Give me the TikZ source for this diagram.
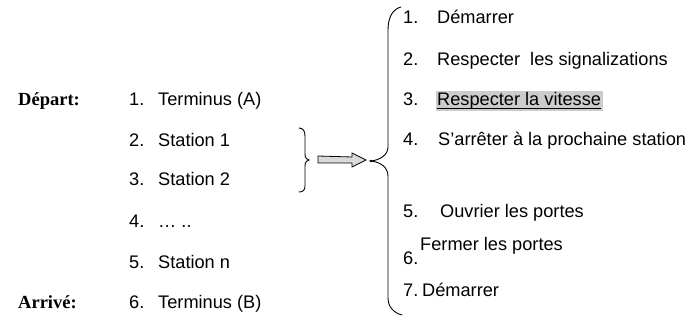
\documentclass[tikz,border=0pt]{standalone}
\usepackage{fontspec}
\setmainfont{Liberation Sans}
\newfontfamily\lblfont{Liberation Serif}
\usetikzlibrary{calc}
\begin{document}
\begin{tikzpicture}[x=1pt,y=-1pt,
  item/.style={anchor=base west,inner sep=0pt,font=\fontsize{18.2}{21}\selectfont},
  lbl/.style={anchor=base west,inner sep=0pt,font=\lblfont\fontsize{18.5}{21}\selectfont\bfseries},
  brace/.style={draw=black,line width=0.9pt,line cap=round},
  hl/.style={fill=gray!40}]
\useasboundingbox (0,0) rectangle (695,320);
% left labels
\node[lbl] (dep) at (18,106) {Départ:};
\node[lbl] (arr) at (18,308) {Arrivé:};
% left list
\node[item] (n1) at (129,106) {1.};
\node[item] (t1) at (158,106) {Terminus (A)};
\node[item] (n2) at (129,147) {2.};
\node[item] (t2) at (158,147) {Station 1};
\node[item] (n3) at (129,186) {3.};
\node[item] (t3) at (158,186) {Station 2};
\node[item] (n4) at (129,228) {4.};
\node[item] (t4) at (158,228) {\ldots\ ..};
\node[item] (n5) at (129,268) {5.};
\node[item] (t5) at (158,268) {Station n};
\node[item] (n6) at (129,308) {6.};
\node[item] (t6) at (158,308) {Terminus (B)};
% small brace
\coordinate (sb) at (309,160);
\draw[brace] (299,128) .. controls (303,128) and (305,131) .. (305,136) -- (305,154)
  .. controls (305,158) and (307,160) .. (sb)
  .. controls (307,160) and (305,162) .. (305,166) -- (305,186)
  .. controls (305,190) and (303,192) .. (299,192);
% big brace
\coordinate (bb) at (371,161);
\draw[brace] (401,7) .. controls (393,9) and (388,17) .. (388,30) -- (388,147)
  .. controls (388,155) and (380,160) .. (bb)
  .. controls (380,162) and (388,167) .. (388,176) -- (388,298)
  .. controls (388,307) and (394,313) .. (402,315);
% arrow
\draw[fill=gray!30,line width=0.8pt,line join=miter]
  ($(sb)+(9,-4)$) -- ($(bb)+(-19,-4)$) -- ($(bb)+(-19,-8)$) -- ($(bb)+(-5,-1)$)
  -- ($(bb)+(-19,6)$) -- ($(bb)+(-19,2)$) -- ($(sb)+(9,3)$) -- cycle;
\fill (bb) circle (1.3);
% right list
\node[item] (r1n) at (403,24) {1.};
\node[item] (r1) at (437,24) {Démarrer};
\node[item] (r2n) at (403,66) {2.};
\node[item] (r2) at (437,66) {Respecter\ \ les signalizations};
\node[item] (r3n) at (403,106) {3.};
\node[item,hl,inner sep=1.5pt] (r3) at (435.5,106) {Respecter la vitesse};
\draw[line width=0.8pt] ($(r3.base west)+(1.5,2)$) -- ($(r3.base east)+(-1.5,2)$);
\node[item] (r4n) at (403,146) {4.};
\node[item] (r4) at (438,146) {S'arrêter à la prochaine station};
\node[item] (r5n) at (403,218) {5.};
\node[item] (r5) at (440,218) {Ouvrier les portes};
\node[item] (r6n) at (403,264) {6.};
\node[item] (r6) at (420,251) {Fermer les portes};
\node[item] (r7n) at (403,296) {7.};
\node[item] (r7) at (422,296) {Démarrer};
\end{tikzpicture}
\end{document}
